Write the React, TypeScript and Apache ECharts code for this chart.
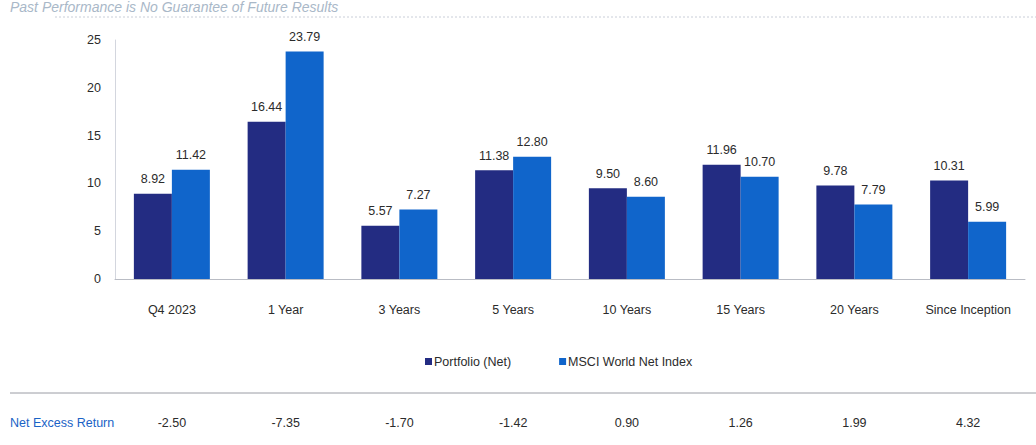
import React, { useEffect, useRef } from "react";
import * as echarts from "echarts";

const categories = ["Q4 2023", "1 Year", "3 Years", "5 Years", "10 Years", "15 Years", "20 Years", "Since Inception"];
const portfolioNet = [8.92, 16.44, 5.57, 11.38, 9.5, 11.96, 9.78, 10.31];
const msciWorld = [11.42, 23.79, 7.27, 12.8, 8.6, 10.7, 7.79, 5.99];
const netExcess = [-2.5, -7.35, -1.7, -1.42, 0.9, 1.26, 1.99, 4.32];
const yTicks = { min: 0, max: 25, interval: 5 };

const FONT = "'Liberation Sans', Arial, Helvetica, sans-serif";
const TXT = "#2b2b2b";

export default function App() {
  const ref = useRef<HTMLDivElement>(null);
  useEffect(() => {
    if (!ref.current) return;
    const chart = echarts.init(ref.current, null, { renderer: "svg" });
    chart.setOption({
      animation: false,
      backgroundColor: "#ffffff",
      textStyle: { fontFamily: FONT },
      grid: { left: 115, right: 11, top: 40, bottom: 166, containLabel: false },
      legend: {
        left: 420,
        top: 350,
        icon: "rect",
        itemWidth: 7,
        itemHeight: 7,
        itemGap: 48,
        textStyle: { fontSize: 12.5, color: TXT, fontFamily: FONT, padding: [0, 0, 0, -3] },
        data: ["Portfolio (Net)", "MSCI World Net Index"],
      },
      xAxis: [
        {
          type: "category",
          data: categories,
          axisLine: { lineStyle: { color: "#b9bcc4", width: 1 } },
          axisTick: { show: false },
          axisLabel: { color: TXT, fontSize: 12.5, margin: 24, fontFamily: FONT },
        },
        {
          type: "category",
          data: netExcess.map((v) => v.toFixed(2)),
          position: "bottom",
          offset: 131,
          axisLine: { show: false },
          axisTick: { show: false },
          axisLabel: { color: TXT, fontSize: 12.5, margin: 6, fontFamily: FONT },
        },
      ],
      yAxis: {
        type: "value",
        min: yTicks.min,
        max: yTicks.max,
        interval: yTicks.interval,
        axisLine: { show: true, lineStyle: { color: "#d3d6de", width: 1 } },
        axisTick: { show: false },
        splitLine: { show: false },
        axisLabel: { color: TXT, fontSize: 12.5, margin: 14, fontFamily: FONT },
      },
      series: [
        {
          name: "Portfolio (Net)",
          type: "bar",
          data: portfolioNet,
          barWidth: 38,
          barGap: "0%",
          itemStyle: { color: "#232c82" },
          label: {
            show: true,
            position: "top",
            distance: 8,
            color: TXT,
            fontSize: 12.5,
            fontFamily: FONT,
            formatter: (p: any) => Number(p.value).toFixed(2),
          },
        },
        {
          name: "MSCI World Net Index",
          type: "bar",
          data: msciWorld,
          barWidth: 38,
          barGap: "0%",
          itemStyle: { color: "#1065cb" },
          label: {
            show: true,
            position: "top",
            distance: 8,
            color: TXT,
            fontSize: 12.5,
            fontFamily: FONT,
            formatter: (p: any) => Number(p.value).toFixed(2),
          },
        },
      ],
      graphic: [
        {
          type: "text",
          left: 10,
          top: 0,
          style: {
            text: "Past Performance is No Guarantee of Future Results",
            fill: "#a9b8c8",
            font: `italic 14px ${FONT}`,
          },
        },
        {
          type: "line",
          shape: { x1: 55, y1: 17, x2: 1036, y2: 17 },
          style: { stroke: "#c9ced8", lineWidth: 1, lineDash: [2, 2] },
        },
        {
          type: "line",
          shape: { x1: 10, y1: 393, x2: 1036, y2: 393 },
          style: { stroke: "#9a9ca4", lineWidth: 1 },
        },
        {
          type: "text",
          left: 10,
          top: 416,
          style: {
            text: "Net Excess Return",
            fill: "#1a63c6",
            font: `12.5px ${FONT}`,
          },
        },
      ],
    });
    return () => chart.dispose();
  }, []);
  return <div ref={ref} style={{ width: 1036, height: 445, position: "absolute", left: 0, top: 0 }} />;
}
